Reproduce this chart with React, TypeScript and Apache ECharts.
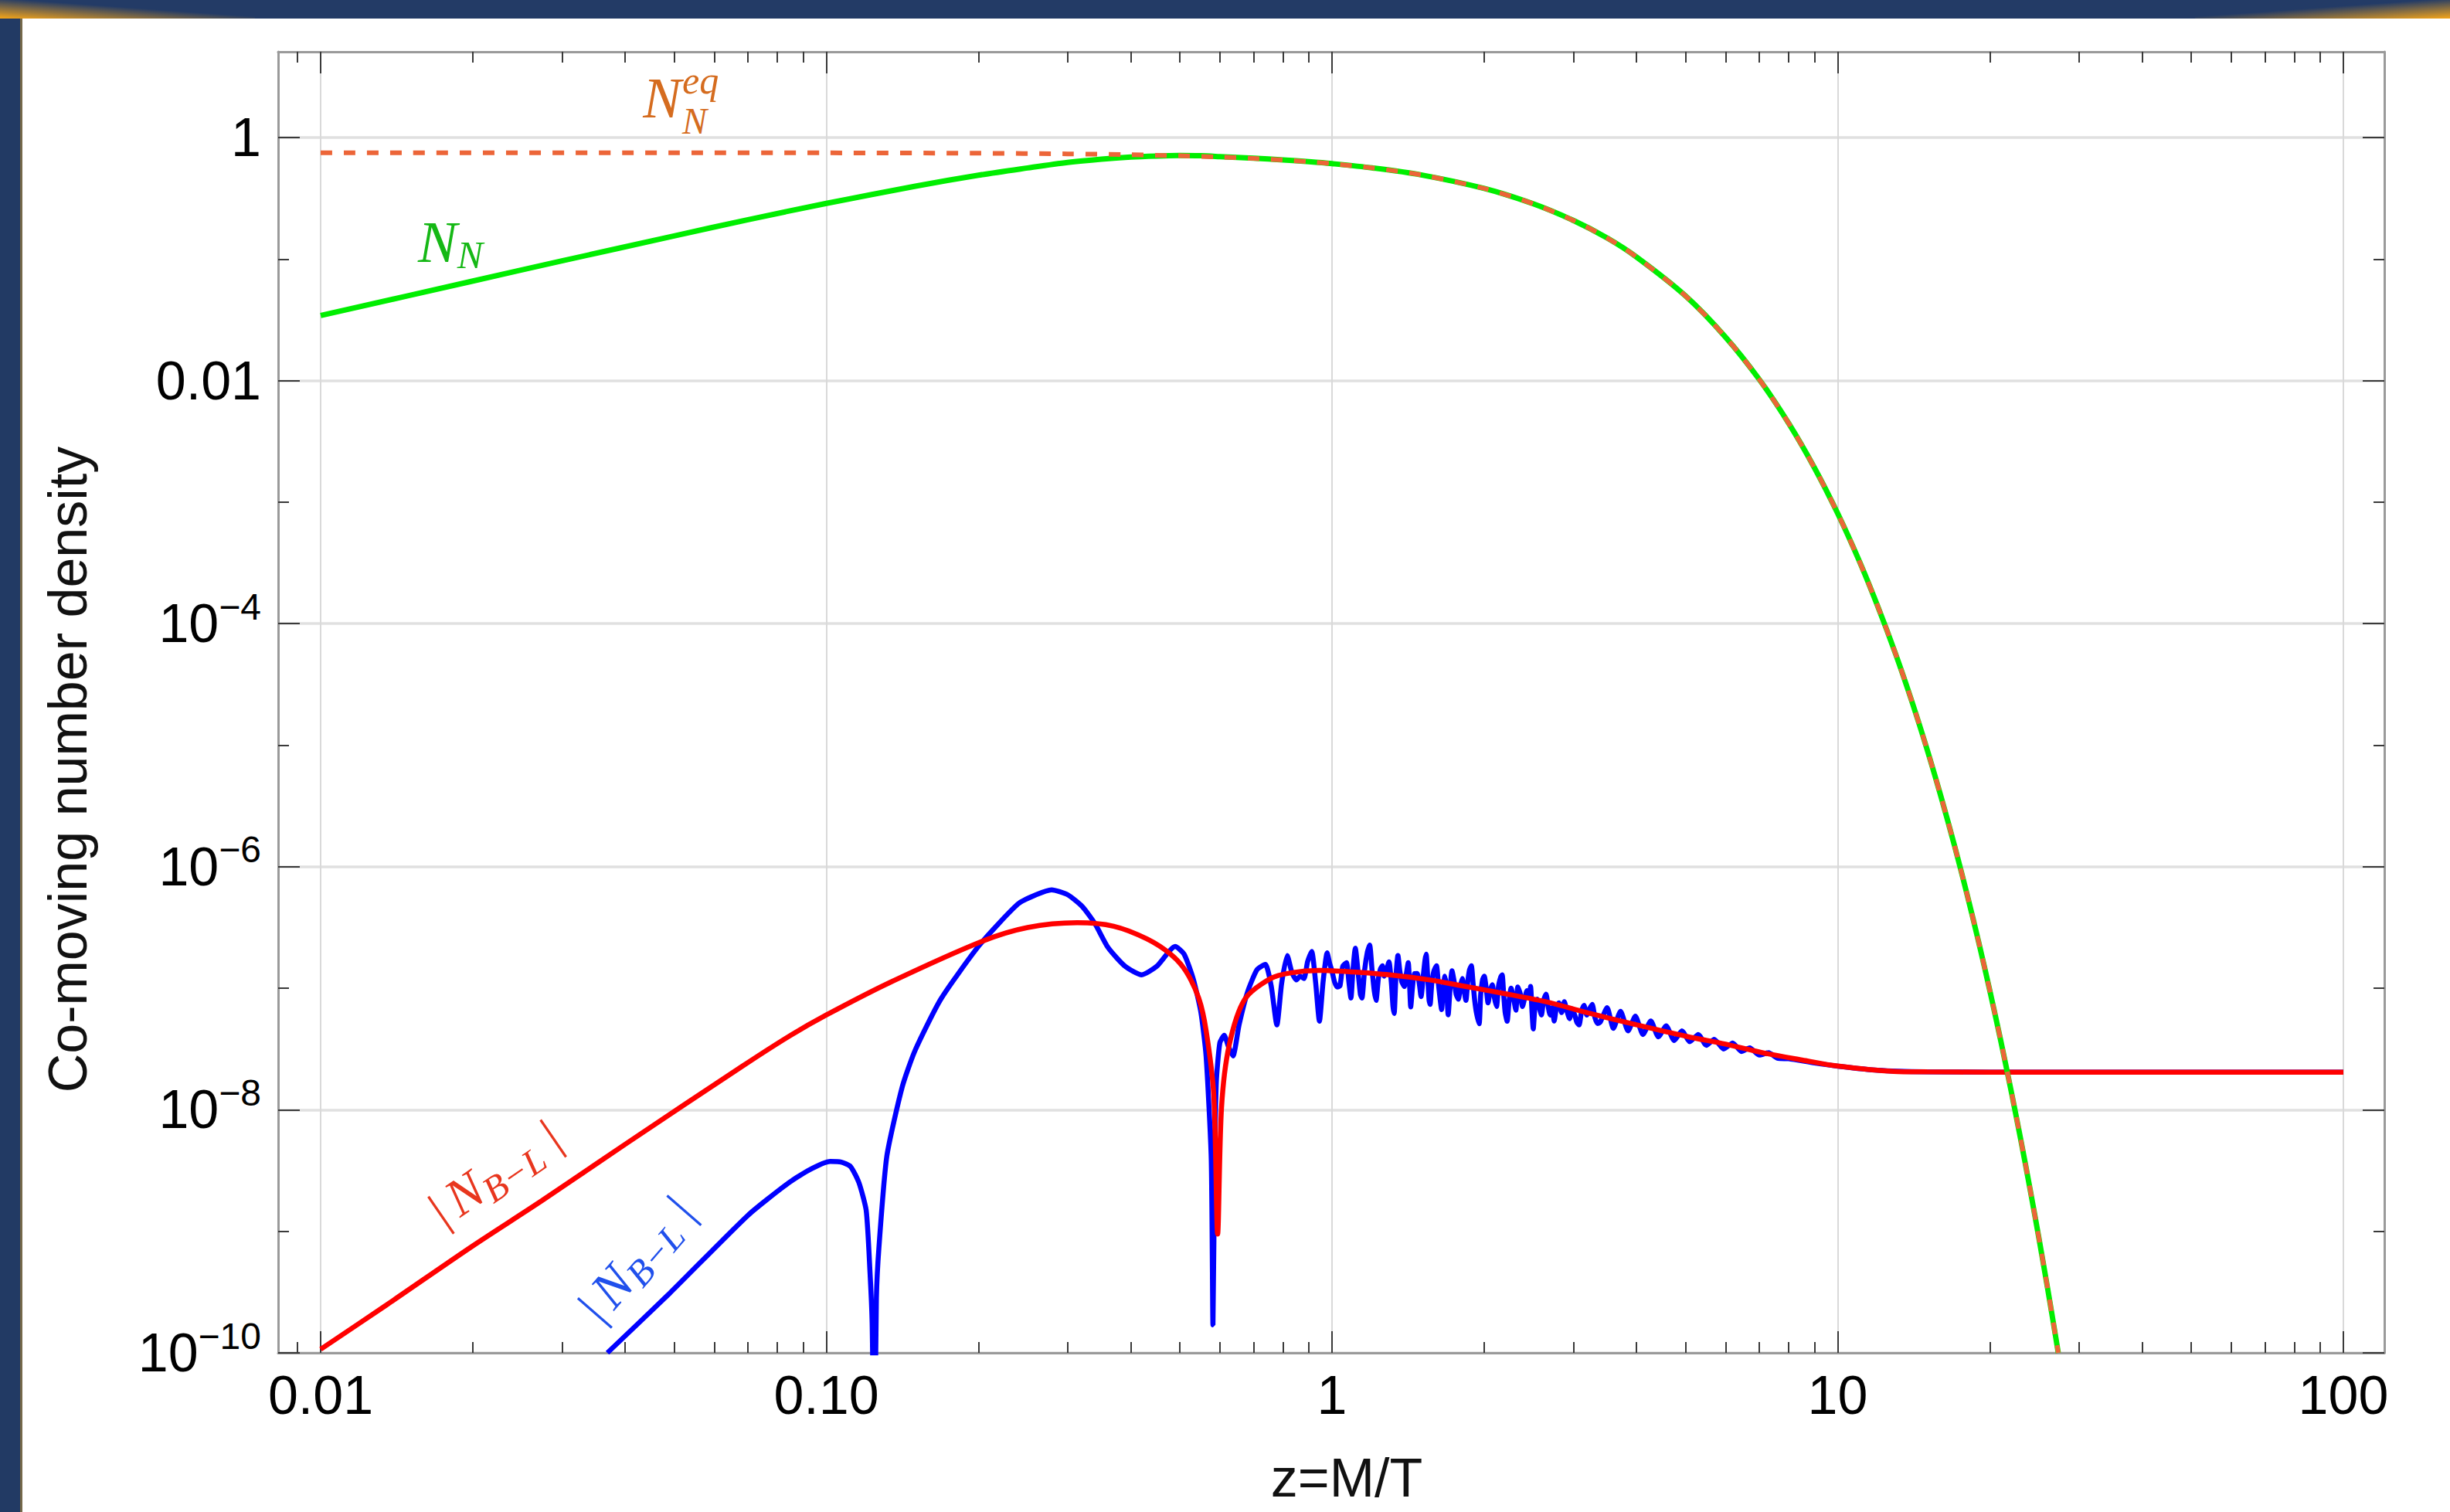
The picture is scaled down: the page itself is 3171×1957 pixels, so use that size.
import React, { useEffect, useRef } from "react";
import * as echarts from "echarts";

const W = 3171;
const H = 1957;

// axis ranges
const X_MIN = 0.00824;
const X_MAX = 120.5;
const Y_MIN = 1e-10;
const Y_MAX = 5.08;

// ticks and tick labels
const xMajorTicks = [0.01, 0.1, 1, 10, 100];
const xTickLabels = ["0.01", "0.10", "1", "10", "100"];
const xMinorTicks = [
  0.009, 0.02, 0.03, 0.04, 0.05, 0.06, 0.07, 0.08, 0.09,
  0.2, 0.3, 0.4, 0.5, 0.6, 0.7, 0.8, 0.9,
  2, 3, 4, 5, 6, 7, 8, 9,
  20, 30, 40, 50, 60, 70, 80, 90,
];
const yMajorTicks = [1e-10, 1e-8, 1e-6, 1e-4, 0.01, 1];
const yTickLabels = [
  "{b|10}{s|−10}",
  "{b|10}{s|−8}",
  "{b|10}{s|−6}",
  "{b|10}{s|−4}",
  "{b|0.01}",
  "{b|1}",
];
const yMinorTicks = [1e-9, 1e-7, 1e-5, 1e-3, 0.1];

// N_N^eq (dashed)
const zEq = [0.01, 0.05, 0.1, 0.2, 0.3, 0.4, 0.5, 0.6, 0.7, 0.8, 0.9, 1, 1.2, 1.5, 2, 2.5, 3, 3.5, 4, 5, 6, 7, 8, 9, 10, 11, 12, 13, 14, 15, 16, 17, 18, 19, 20, 21, 22, 23, 24, 25, 26, 27, 27.3];
const nEq = [0.75, 0.749, 0.748, 0.743, 0.734, 0.722, 0.708, 0.691, 0.673, 0.653, 0.632, 0.609, 0.563, 0.493, 0.381, 0.285, 0.208, 0.149, 0.104, 0.0498, 0.0228, 0.0102, 0.00445, 0.00191, 8.07e-4, 3.37e-4, 1.39e-4, 5.72e-5, 2.33e-5, 9.43e-6, 3.79e-6, 1.52e-6, 6.05e-7, 2.4e-7, 9.49e-8, 3.74e-8, 1.47e-8, 5.76e-9, 2.25e-9, 8.78e-10, 3.42e-10, 1.33e-10, 1.0e-10];

// N_N (green)
const zGreen = [0.01, 0.02, 0.03, 0.05, 0.07, 0.1, 0.15, 0.2, 0.25, 0.3, 0.35, 0.4, 0.45, 0.5, 0.55, 0.6, 0.7, 0.8, 0.9, 1, 1.2, 1.5, 2, 2.5, 3, 3.5, 4, 5, 6, 7, 8, 9, 10, 11, 12, 13, 14, 15, 16, 17, 18, 19, 20, 21, 22, 23, 24, 25, 26, 27, 27.3];
const nGreen = [0.0343, 0.066, 0.0966, 0.155, 0.211, 0.287, 0.398, 0.49, 0.562, 0.624, 0.665, 0.692, 0.705, 0.711, 0.708, 0.697, 0.676, 0.655, 0.633, 0.61, 0.563, 0.493, 0.381, 0.285, 0.208, 0.149, 0.104, 0.0498, 0.0228, 0.0102, 0.00445, 0.00191, 8.07e-4, 3.37e-4, 1.39e-4, 5.72e-5, 2.33e-5, 9.43e-6, 3.79e-6, 1.52e-6, 6.05e-7, 2.4e-7, 9.49e-8, 3.74e-8, 1.47e-8, 5.76e-9, 2.25e-9, 8.78e-10, 3.42e-10, 1.33e-10, 1.0e-10];

// |N_B-L| red
const zRed = [0.01, 0.0135, 0.02, 0.02735, 0.04, 0.0683, 0.085, 0.1, 0.1332, 0.203, 0.25, 0.3134, 0.37, 0.4303, 0.48, 0.5135, 0.545, 0.5636, 0.5836, 0.594, 0.6047, 0.626, 0.672, 0.7554, 0.83, 0.944, 1.0996, 1.3, 1.563, 1.8, 2.223, 2.7, 3.16, 4, 5.05, 6, 7.18, 8.5, 10, 12.9, 15, 20, 100];
const nRed = [1.07e-10, 2.48e-10, 7.6e-10, 1.78e-9, 5.2e-9, 2.29e-8, 4.1e-8, 6.03e-8, 1.11e-7, 2.43e-7, 3.16e-7, 3.46e-7, 3.24e-7, 2.55e-7, 1.9e-7, 1.39e-7, 8.3e-8, 4.5e-8, 1.33e-8, 9.5e-10, 1.05e-8, 3.39e-8, 8.1e-8, 1.2e-7, 1.34e-7, 1.4e-7, 1.36e-7, 1.29e-7, 1.17e-7, 1.05e-7, 8.95e-8, 7.6e-8, 6.37e-8, 5.0e-8, 4.0e-8, 3.47e-8, 2.92e-8, 2.57e-8, 2.29e-8, 2.07e-8, 2.05e-8, 2.04e-8, 2.04e-8];

// |N_B-L| blue (z and log10 of the value)
const zBlue = [
  0.0369, 0.0491, 0.0699, 0.0833, 0.092, 0.1018, 0.107, 0.1117, 0.116, 0.1199, 0.122, 0.1232, 0.1244, 0.1256, 0.1271, 0.1317, 0.1413, 0.1497, 0.1684, 0.2008, 0.2394, 0.26, 0.2789, 0.3, 0.3209, 0.34, 0.3609, 0.39, 0.4204, 0.45, 0.4896, 0.51, 0.5314, 0.55, 0.5636, 0.577, 0.5815, 0.586, 0.5905, 0.6, 0.612, 0.624, 0.637, 0.655, 0.68, 0.71, 0.738, 0.758, 0.778, 0.795, 0.8155, 0.833, 0.85, 0.865, 0.88, 0.895, 0.9116, 0.928, 0.9443, 0.96, 0.978, 0.99,
  1.0, 1.012, 1.025, 1.037, 1.05, 1.068, 1.08, 1.09, 1.1, 1.112, 1.125, 1.138, 1.146, 1.16, 1.175, 1.187, 1.2, 1.212, 1.222, 1.235, 1.247, 1.258, 1.268, 1.28, 1.296, 1.31, 1.32, 1.327, 1.338, 1.35, 1.362, 1.375, 1.391, 1.403, 1.415, 1.424, 1.431, 1.442, 1.455, 1.474, 1.49, 1.5, 1.515, 1.527, 1.535, 1.548, 1.556, 1.563, 1.575, 1.59, 1.609, 1.622, 1.635, 1.647, 1.66, 1.672, 1.685, 1.697, 1.712, 1.727, 1.745, 1.76, 1.778, 1.795, 1.81, 1.825, 1.84, 1.855, 1.87, 1.886, 1.9, 1.915, 1.93, 1.954, 1.968, 1.985,
  2.0, 2.018, 2.035, 2.055, 2.075, 2.095, 2.115, 2.135, 2.155, 2.17, 2.185, 2.2, 2.22, 2.24, 2.26, 2.285, 2.31, 2.33, 2.355, 2.38, 2.405, 2.43, 2.455, 2.47, 2.485, 2.5, 2.52, 2.545, 2.57, 2.595, 2.62, 2.65, 2.675, 2.7, 2.725, 2.75, 2.78, 2.81, 2.845, 2.88, 2.915, 2.95, 2.985, 3.02, 3.05, 3.08, 3.115, 3.15, 3.19, 3.23, 3.27, 3.31, 3.35, 3.39,
  3.5, 3.6, 3.72, 3.85, 3.98, 4.12, 4.27, 4.42, 4.58, 4.75, 4.92, 5.1, 5.3, 5.5, 5.7, 5.95, 6.2, 6.45, 6.7, 7.0, 7.3, 7.6, 8.0, 9.0, 10, 12, 15, 20, 100,
];
const blueLog10 = [
  -10.0, -9.506, -8.87, -8.616, -8.5, -8.425, -8.43, -8.468, -8.6, -8.828, -9.337, -9.76, -11, -9.55, -9.125, -8.383, -7.811, -7.514, -7.09, -6.645, -6.306, -6.23, -6.19, -6.23, -6.328, -6.47, -6.667, -6.82, -6.889, -6.82, -6.656, -6.72, -6.921, -7.19, -7.557, -8.404, -9.77, -8.45, -7.769, -7.45, -7.387, -7.48, -7.557, -7.3, -7.037, -6.85, -6.804, -6.98, -7.302, -6.96, -6.73, -6.87, -6.931, -6.9, -6.92, -6.78, -6.698, -6.95, -7.271, -6.95, -6.709, -6.8,
  -6.86, -6.95, -6.99, -6.98, -6.82, -6.79, -6.95, -7.08, -6.85, -6.67, -6.85, -7.05, -7.08, -6.85, -6.7, -6.645, -6.85, -7.02, -7.1, -6.92, -6.84, -6.815, -6.9, -6.86, -6.783, -6.95, -7.15, -7.207, -6.9, -6.73, -6.86, -6.95, -6.985, -6.88, -6.79, -6.98, -7.154, -7.0, -6.88, -6.879, -6.98, -7.069, -6.9, -6.77, -6.72, -6.95, -7.1, -7.133, -6.96, -6.86, -6.815, -6.95, -7.08, -7.175, -7.0, -6.9, -7.0, -7.218, -7.0, -6.857, -6.95, -7.05, -7.09, -6.98, -6.92, -7.02, -7.1, -6.95, -6.85, -6.815, -6.95, -7.1, -7.2, -7.292, -7.05, -6.93,
  -6.9, -7.0, -7.12, -7.02, -6.97, -7.08, -7.15, -6.98, -6.91, -6.889, -7.05, -7.2, -7.271, -7.1, -7.0, -7.08, -7.18, -6.99, -7.04, -7.15, -7.08, -7.02, -7.06, -6.985, -7.18, -7.334, -7.15, -7.09, -7.16, -7.22, -7.1, -7.048, -7.15, -7.22, -7.16, -7.27, -7.15, -7.12, -7.2, -7.11, -7.19, -7.25, -7.17, -7.22, -7.28, -7.302, -7.19, -7.14, -7.22, -7.17, -7.133, -7.24, -7.29, -7.28,
  -7.16, -7.33, -7.19, -7.35, -7.23, -7.38, -7.27, -7.4, -7.31, -7.43, -7.35, -7.44, -7.38, -7.47, -7.42, -7.5, -7.45, -7.52, -7.49, -7.55, -7.53, -7.575, -7.58, -7.615, -7.641, -7.675, -7.688, -7.69, -7.69,
];

const SANS = '"Liberation Sans", Arial, Helvetica, sans-serif';
const SERIF = '"Liberation Serif", "Times New Roman", serif';

function logIndex(ticks: number[], v: number): number {
  const lv = Math.log10(v);
  for (let i = 0; i < ticks.length; i++) {
    if (Math.abs(Math.log10(ticks[i]) - lv) < 1e-3) return i;
  }
  return -1;
}

function pairs(xs: number[], ys: number[]) {
  return xs.map((x, i) => [x, ys[i]]);
}

function absLabel(color: string) {
  return [
    { type: "text", x: -88, y: 0, style: { text: "|", fill: color, font: `64px ${SERIF}`, align: "center", verticalAlign: "middle" } },
    { type: "text", x: -47, y: 0, style: { text: "N", fill: color, font: `italic 68px ${SERIF}`, align: "center", verticalAlign: "middle" } },
    { type: "text", x: 20, y: 16, style: { text: "B−L", fill: color, font: `italic 48px ${SERIF}`, align: "center", verticalAlign: "middle" } },
    { type: "text", x: 88, y: 0, style: { text: "|", fill: color, font: `64px ${SERIF}`, align: "center", verticalAlign: "middle" } },
  ];
}

export default function App() {
  const ref = useRef<HTMLDivElement>(null);

  useEffect(() => {
    if (!ref.current) return;
    const chart = echarts.init(ref.current, null, { renderer: "svg", width: W, height: H });

    const frame = { show: true, onZero: false, lineStyle: { color: "#9a9a9a", width: 3 } };
    const majorTick = (vals: number[]) => ({ show: true, inside: true, length: 28, customValues: vals, lineStyle: { color: "#3a3a3a", width: 2 } });
    const minorTick = (vals: number[]) => ({ show: true, inside: true, length: 14, customValues: vals, lineStyle: { color: "#3a3a3a", width: 2 } });

    const xBase = { type: "log", gridIndex: 0, min: X_MIN, max: X_MAX, logBase: 10 };
    const yBase = { type: "log", gridIndex: 0, min: Y_MIN, max: Y_MAX, logBase: 10 };

    const lineBase = {
      type: "line",
      xAxisIndex: 0,
      yAxisIndex: 0,
      showSymbol: false,
      symbol: "none",
      silent: true,
    };

    const option: any = {
      animation: false,
      backgroundColor: "#ffffff",
      grid: { left: 360, right: 85, top: 67, bottom: 206 },
      xAxis: [
        {
          ...xBase,
          position: "bottom",
          axisLine: frame,
          axisTick: majorTick(xMajorTicks),
          axisLabel: {
            show: true,
            customValues: xMajorTicks,
            margin: 20,
            fontSize: 70,
            fontFamily: SANS,
            color: "#000",
            formatter: (v: number) => {
              const i = logIndex(xMajorTicks, v);
              return i >= 0 ? xTickLabels[i] : "";
            },
          },
          splitLine: { show: true, lineStyle: { color: "#d9d9d9", width: 2 } },
        },
        { ...xBase, position: "bottom", axisLine: { show: false }, axisTick: minorTick(xMinorTicks), axisLabel: { show: false }, splitLine: { show: false } },
        { ...xBase, position: "top", axisLine: frame, axisTick: majorTick(xMajorTicks), axisLabel: { show: false }, splitLine: { show: false } },
        { ...xBase, position: "top", axisLine: { show: false }, axisTick: minorTick(xMinorTicks), axisLabel: { show: false }, splitLine: { show: false } },
      ],
      yAxis: [
        {
          ...yBase,
          position: "left",
          axisLine: frame,
          axisTick: majorTick(yMajorTicks),
          axisLabel: {
            show: true,
            customValues: yMajorTicks,
            margin: 22,
            color: "#000",
            formatter: (v: number) => {
              const i = logIndex(yMajorTicks, v);
              return i >= 0 ? yTickLabels[i] : "";
            },
            rich: {
              b: { fontSize: 70, fontFamily: SANS, color: "#000" },
              s: { fontSize: 48, fontFamily: SANS, color: "#000", padding: [0, 0, 44, 0] },
            },
          },
          splitLine: { show: true, lineStyle: { color: "#e0e0e0", width: 3.5 } },
        },
        { ...yBase, position: "left", axisLine: { show: false }, axisTick: minorTick(yMinorTicks), axisLabel: { show: false }, splitLine: { show: false } },
        { ...yBase, position: "right", axisLine: frame, axisTick: majorTick(yMajorTicks), axisLabel: { show: false }, splitLine: { show: false } },
        { ...yBase, position: "right", axisLine: { show: false }, axisTick: minorTick(yMinorTicks), axisLabel: { show: false }, splitLine: { show: false } },
      ],
      series: [
        {
          ...lineBase,
          name: "|N_B-L| (blue)",
          data: zBlue.map((z, i) => [z, Math.pow(10, blueLog10[i])]),
          smooth: 0.2,
          lineStyle: { color: "#0000ff", width: 6.5 },
        },
        {
          ...lineBase,
          name: "|N_B-L| (red)",
          data: pairs(zRed, nRed),
          smooth: 0.3,
          lineStyle: { color: "#ff0000", width: 6.5 },
        },
        {
          ...lineBase,
          name: "N_N",
          data: pairs(zGreen, nGreen),
          smooth: 0.3,
          lineStyle: { color: "#00ee00", width: 7 },
        },
        {
          ...lineBase,
          name: "N_N^eq",
          data: pairs(zEq, nEq),
          smooth: 0.3,
          lineStyle: { color: "#ec6538", width: 6, type: [15, 15] },
        },
      ],
      graphic: {
        elements: [
          // slide border
          { type: "rect", z: 100, shape: { x: 0, y: 0, width: 28, height: H }, style: { fill: "#223a64" } },
          { type: "rect", z: 100, shape: { x: 26, y: 24, width: 3, height: H - 24 }, style: { fill: "#75694a" } },
          { type: "rect", z: 100, shape: { x: 0, y: 0, width: W, height: 24 }, style: { fill: "#233b66" } },
          {
            type: "rect",
            z: 101,
            shape: { x: 0, y: 0, width: 330, height: 24 },
            style: {
              fill: {
                type: "linear", x: 0, y: 1, x2: 1, y2: 0,
                colorStops: [
                  { offset: 0, color: "rgba(245,165,25,1)" },
                  { offset: 0.55, color: "rgba(245,165,25,0)" },
                ],
              },
            },
          },
          {
            type: "rect",
            z: 101,
            shape: { x: W - 330, y: 0, width: 330, height: 24 },
            style: {
              fill: {
                type: "linear", x: 1, y: 1, x2: 0, y2: 0,
                colorStops: [
                  { offset: 0, color: "rgba(245,165,25,1)" },
                  { offset: 0.55, color: "rgba(245,165,25,0)" },
                ],
              },
            },
          },
          // axis titles
          {
            type: "text",
            x: 88,
            y: 996,
            rotation: Math.PI / 2,
            style: { text: "Co-moving number density", fill: "#111", font: `70px ${SANS}`, align: "center", verticalAlign: "middle" },
          },
          {
            type: "text",
            x: 1743,
            y: 1913,
            style: { text: "z=M/T", fill: "#111", font: `70px ${SANS}`, align: "center", verticalAlign: "middle" },
          },
          // curve labels: N_N^eq
          { type: "text", x: 857, y: 127, style: { text: "N", fill: "#d56c1f", font: `italic 74px ${SERIF}`, align: "center", verticalAlign: "middle" } },
          {
            type: "text",
            x: 883,
            y: 131,
            style: {
              text: "{e|eq}\n{s|N}",
              fill: "#d56c1f",
              align: "left",
              verticalAlign: "middle",
              rich: {
                e: { fontSize: 50, fontStyle: "italic", fontFamily: SERIF, fill: "#d56c1f", lineHeight: 50 },
                s: { fontSize: 48, fontStyle: "italic", fontFamily: SERIF, fill: "#d56c1f", lineHeight: 54 },
              },
            },
          },
          // curve labels: N_N
          {
            type: "text",
            x: 541,
            y: 313,
            style: {
              text: "{m|N}{s|N}",
              fill: "#16b816",
              align: "left",
              verticalAlign: "middle",
              rich: {
                m: { fontSize: 76, fontStyle: "italic", fontFamily: SERIF, fill: "#16b816", lineHeight: 84 },
                s: { fontSize: 50, fontStyle: "italic", fontFamily: SERIF, fill: "#16b816", lineHeight: 50, padding: [34, 0, 0, 0] },
              },
            },
          },
          { type: "group", x: 640, y: 1518, rotation: 0.6, children: absLabel("#e8361e") },
          { type: "group", x: 823, y: 1629, rotation: 0.855, children: absLabel("#2050ec") },
        ],
      },
    };

    chart.setOption(option);
    return () => {
      chart.dispose();
    };
  }, []);

  return <div ref={ref} style={{ position: "absolute", left: 0, top: 0, width: W, height: H }} />;
}
